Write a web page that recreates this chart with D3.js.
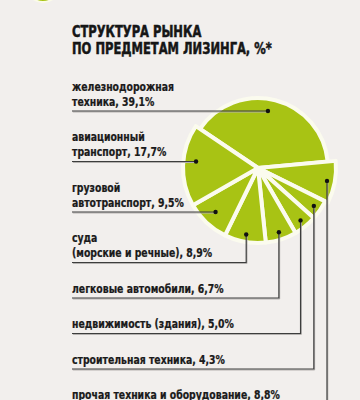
<!DOCTYPE html>
<html><head><meta charset="utf-8">
<script src="https://cdn.jsdelivr.net/npm/d3@7"></script>
<style>html,body{margin:0;padding:0;background:#f2efed}</style>
</head><body><svg id="c" width="360" height="400"></svg>
<script>
// ---- data ----
const categories = ["железнодорожная техника","прочая техника и оборудование","строительная техника","недвижимость (здания)","легковые автомобили","суда (морские и речные)","грузовой автотранспорт","авиационный транспорт"];
const values = [39.1, 8.8, 4.3, 5.0, 6.7, 8.9, 9.5, 17.7];
const labelLines = [
  ["железнодорожная","техника, 39,1%"],
  ["прочая техника и оборудование, 8,8%"],
  ["строительная техника, 4,3%"],
  ["недвижимость (здания), 5,0%"],
  ["легковые автомобили, 6,7%"],
  ["суда","(морские и речные), 8,9%"],
  ["грузовой","автотранспорт, 9,5%"],
  ["авиационный","транспорт, 17,7%"]
];
const labelOrder = [0, 7, 6, 5, 4, 3, 2, 1];
const titleLines = ["СТРУКТУРА РЫНКА","ПО ПРЕДМЕТАМ ЛИЗИНГА, %*"];

// ---- drawing ----
const svg = d3.select("#c");
const green = "#a8c314";
const font = "'Liberation Sans Narrow','DejaVu Sans Condensed','Liberation Sans',sans-serif";
svg.append("rect").attr("width",360).attr("height",400).attr("fill","#f2efed");

// decorative circle top-left
svg.append("circle").attr("cx",43).attr("cy",-15).attr("r",17).attr("fill",green)
  .attr("stroke","#fbfbe8").attr("stroke-width",2);

const xL = 72;
// title
svg.append("g").selectAll("text").data(titleLines).join("text")
  .attr("transform",(d,i)=>`translate(${xL},${37+i*17}) scale(0.8,1)`)
  .attr("font-family",font).attr("font-weight","bold").attr("font-size",16)
  .attr("fill","#161616").attr("stroke","#161616").attr("stroke-width",0.5)
  .text(d=>d);

const cx = 258, cy = 168;
const radius = i => i===0 ? 70 : (i===1 ? 78 : 75);
const pie = d3.pie().sort(null).value(d=>d)
  .startAngle(-56*Math.PI/180).endAngle(304*Math.PI/180);
const arcs = pie(values);
const arc = d3.arc().innerRadius(0).outerRadius(d=>radius(d.index));

const g = svg.append("g").attr("transform",`translate(${cx},${cy})`);
g.selectAll("path").data(arcs).join("path")
  .attr("d",arc).attr("fill",green)
  .attr("stroke","#fbfbee").attr("stroke-width",4).attr("stroke-linejoin","round");

// labels layout
const layout = {};
let yU = 111;
labelOrder.forEach((idx,k)=>{
  if(k>0) yU += 20.5 + 15*labelLines[idx].length;
  layout[idx] = yU;
});

const labG = svg.append("g");
const lineG = svg.append("g");
labelOrder.forEach(idx=>{
  const uy = layout[idx];
  const lines = labelLines[idx];
  lines.forEach((t,j)=>{
    labG.append("text")
      .attr("transform",`translate(${xL},${uy-5.5-(lines.length-1-j)*15}) scale(0.83,1)`)
      .attr("font-family",font).attr("font-weight","bold").attr("font-size",12.5)
      .attr("fill","#1a1a1a").attr("stroke","#1a1a1a").attr("stroke-width",0.25).text(t);
  });
  const a = arcs[idx];
  const mid = (a.startAngle+a.endAngle)/2;
  const R = radius(idx);
  let dx, dy, pts;
  if (uy < cy + R) {
    dx = cx + Math.sin(mid)*(idx===0 ? 40 : 62); dy = uy;
    pts = [[xL,uy],[dx,dy]];
  } else {
    dx = cx + Math.sin(mid)*R*0.9; dy = cy - Math.cos(mid)*R*0.9;
    pts = [[xL,uy],[dx,uy],[dx,dy]];
  }
  const line = d3.line();
  lineG.append("path").attr("d",line(pts.map(p=>[p[0]+0.8,p[1]+1]))).attr("fill","none")
    .attr("stroke","#b5b2b0").attr("stroke-width",1);
  lineG.append("path").attr("d",line(pts)).attr("fill","none")
    .attr("stroke","#3d3d3d").attr("stroke-width",1.2);
  lineG.append("circle").attr("cx",dx).attr("cy",dy).attr("r",2.2).attr("fill","#111");
});
</script></body></html>
